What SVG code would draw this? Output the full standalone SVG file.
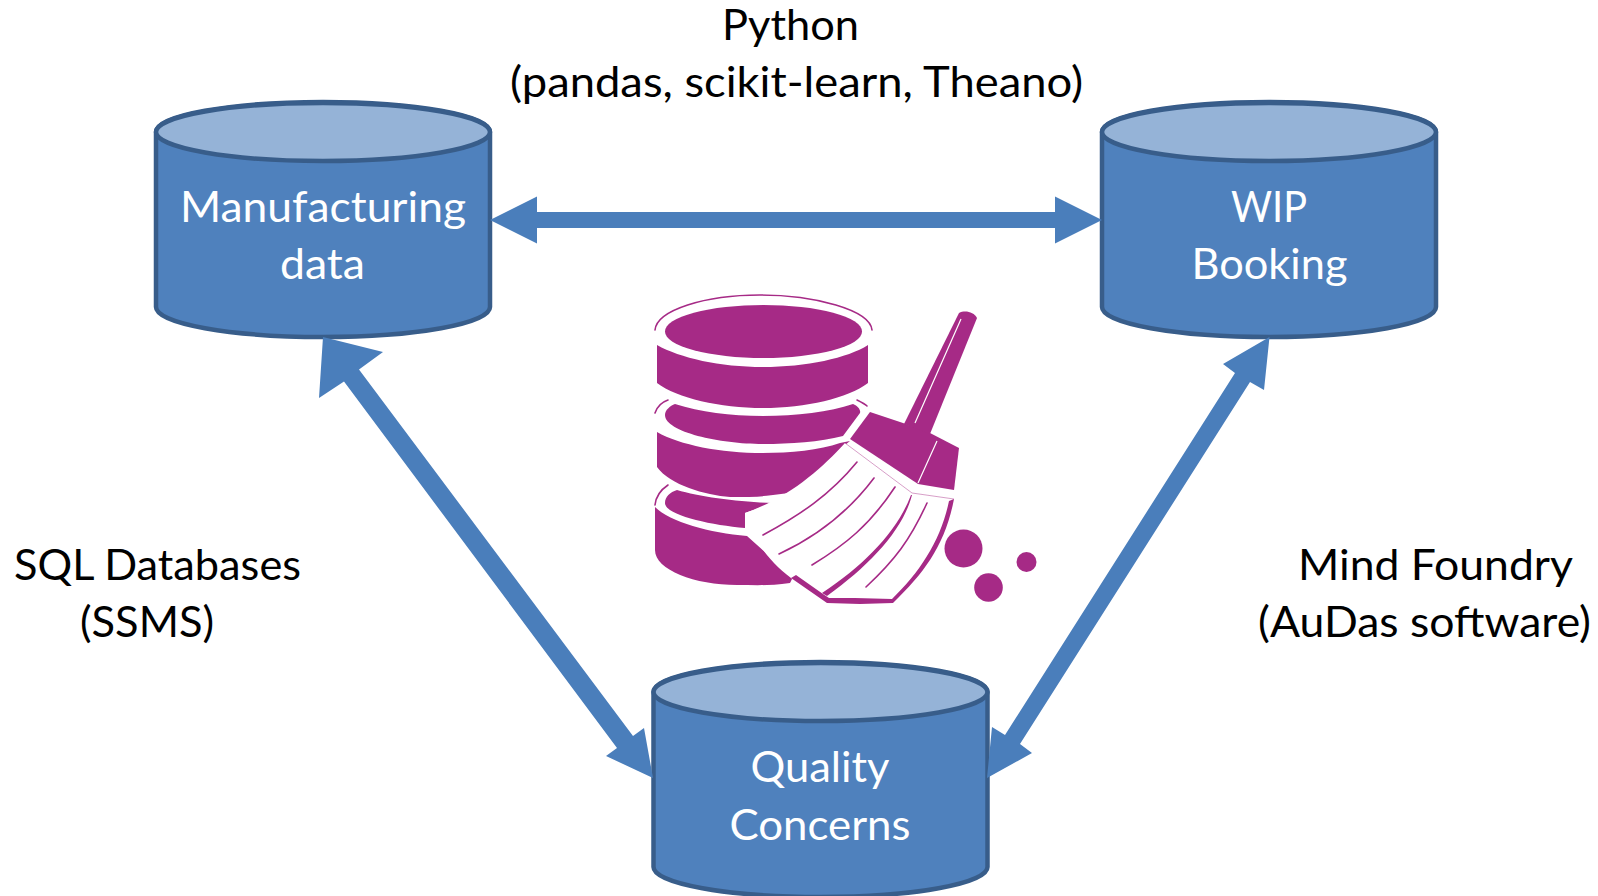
<svg xmlns="http://www.w3.org/2000/svg" xmlns:xlink="http://www.w3.org/1999/xlink" width="1598" height="896" viewBox="0 0 1598 896">
<style>
text{font-family:"Lato","Open Sans","Liberation Sans",sans-serif;font-size:43px}
.lbl{fill:#000}
.nt{fill:#fff}
.body{fill:#4f81bd;stroke:#385d8a;stroke-width:4.5;stroke-linejoin:round}
.top{fill:#95b3d7;stroke:#385d8a;stroke-width:4.5}
.arrow{fill:#4a7ebb}
.p{fill:#a62a86}
.thin{fill:none;stroke:#a62a86;stroke-width:1.6;stroke-linecap:round}
.ln{fill:none;stroke:#a62a86;stroke-width:1.6;stroke-linecap:round}
</style>
<defs>
<g id="cyl">
<path class="body" d="M156,132A167,30 0 0 1 490,132V307A167,30 0 0 1 156,307Z"/>
<ellipse class="top" cx="323" cy="132" rx="167" ry="29"/>
</g>
<filter id="soft" x="-5%" y="-5%" width="110%" height="110%"><feGaussianBlur stdDeviation="0.45"/></filter>
</defs>
<rect width="1598" height="896" fill="#fff"/>
<g id="node-manufacturing">
<use xlink:href="#cyl" href="#cyl"/>
<text class="nt" x="180" y="222" textLength="286" lengthAdjust="spacingAndGlyphs">Manufacturing</text>
<text class="nt" x="280" y="279" textLength="85" lengthAdjust="spacingAndGlyphs">data</text>
</g>
<g id="node-wip">
<use xlink:href="#cyl" href="#cyl" x="946"/>
<text class="nt" x="1231" y="222" textLength="76" lengthAdjust="spacingAndGlyphs">WIP</text>
<text class="nt" x="1191.500" y="279" textLength="156" lengthAdjust="spacingAndGlyphs">Booking</text>
</g>
<g id="node-quality">
<use xlink:href="#cyl" href="#cyl" x="497.500" y="560"/>
<text class="nt" x="750.500" y="782" textLength="139" lengthAdjust="spacingAndGlyphs">Quality</text>
<text class="nt" x="729.500" y="840" textLength="181" lengthAdjust="spacingAndGlyphs">Concerns</text>
</g>
<g id="connectors">
<polygon class="arrow" points="490,220 537,196.500 537,212 1055,212 1055,196.500 1102,220 1055,243.500 1055,228 537,228 537,243.500"/>
<polygon class="arrow" points="323,337 383,352 359,369.500 633,736 644,728 653,778 606,756 617,748 344,381.500 319,398"/>
<polygon class="arrow" points="1269.500,337 1264,390 1250,382 1020,744 1032,753 987,778 992,727 1005,735 1235,373 1223,364"/>
</g>
<g id="labels">
<text class="lbl" x="722" y="40" textLength="137" lengthAdjust="spacingAndGlyphs">Python</text>
<text class="lbl" x="510" y="97" textLength="573" lengthAdjust="spacingAndGlyphs">(pandas, scikit-learn, Theano)</text>
<text class="lbl" x="14" y="580" textLength="287" lengthAdjust="spacingAndGlyphs">SQL Databases</text>
<text class="lbl" x="80" y="637" textLength="134" lengthAdjust="spacingAndGlyphs">(SSMS)</text>
<text class="lbl" x="1298" y="580" textLength="275" lengthAdjust="spacingAndGlyphs">Mind Foundry</text>
<text class="lbl" x="1258" y="637" textLength="333" lengthAdjust="spacingAndGlyphs">(AuDas software)</text>
</g>
<g id="icon" filter="url(#soft)">
<ellipse class="p" cx="763.500" cy="331.500" rx="98.500" ry="26.500"/>
<path class="thin" stroke-width="2" d="M655,330C657,310 705,295 760,295C815,295 870,310 872,330"/>
<path class="p" d="M657,345C680,358 720,367 763,367C806,367 848,358 868,345V383C848,398 806,408 763,408C720,408 677,398 657,383Z"/>
<path class="p" d="M675,404C700,412 730,416 763,416C796,416 830,412 853,404C858,406 861,410 860,413L843,436C820,442 790,444 763,444C720,444 665,432 665,415C665,410 670,406 675,404Z"/>
<path class="thin" d="M655,413C657,407 662,402 668,400M857,400C861,402 865,404 867,406"/>
<path class="p" d="M657,432C680,445 720,453 763,453C790,453 820,450 840,443L850,441L845,445L797,492L773,495C760,497 745,497 730,497C705,495 670,485 657,467Z"/>
<path class="p" d="M677,490C700,497 740,502 773,503L745,513V528C710,525 665,515 665,503C665,497 670,492 677,490Z"/>
<path class="thin" d="M655,505C656,495 662,489 668,485"/>
<path class="p" d="M655,507C670,522 710,533 747,536L793,577L790,583C770,586 755,585 737,585C695,585 655,570 655,550Z"/>
<path d="M745,513C790,497 820,470 845,443L912,493L954,499C945,545 925,572 893,603L827,604L791,578C770,562 752,540 745,513Z" fill="#fff"/>
<path d="M954,499C945,545 925,572 893,603L860,604L827,603L791,578L796,575L823,594L829,598L855,598L892,599C920,572 941,540 949,501Z" fill="#a62a86"/>
<path d="M911,495C898,530 865,565 822,593L827,596C870,565 903,530 912,495Z" fill="#a62a86"/>
<path d="M845,443L912,493L954,499" fill="none" stroke="#a62a86" stroke-width="1" stroke-opacity=".45"/>
<path class="ln" d="M857,462C830,495 800,515 763,535M874,478C850,510 820,535 779,554M895,487C870,525 845,545 812,565M927,503C910,540 895,560 866,587"/>
<path class="p" d="M870,412L903,423L930,433L959,448L954,490L918,484L850,439Z"/>
<path class="p" d="M959,313C965,310 974,312 977,318L930,434L904,424Z"/>
<path d="M961,319L915,423M937,441L918,483" stroke="#fff" stroke-width="1.2" fill="none"/>
<circle class="p" cx="963.500" cy="548.500" r="19"/>
<circle class="p" cx="988.500" cy="587.500" r="14.300"/>
<circle class="p" cx="1026.500" cy="562" r="10"/>
</g>
</svg>
